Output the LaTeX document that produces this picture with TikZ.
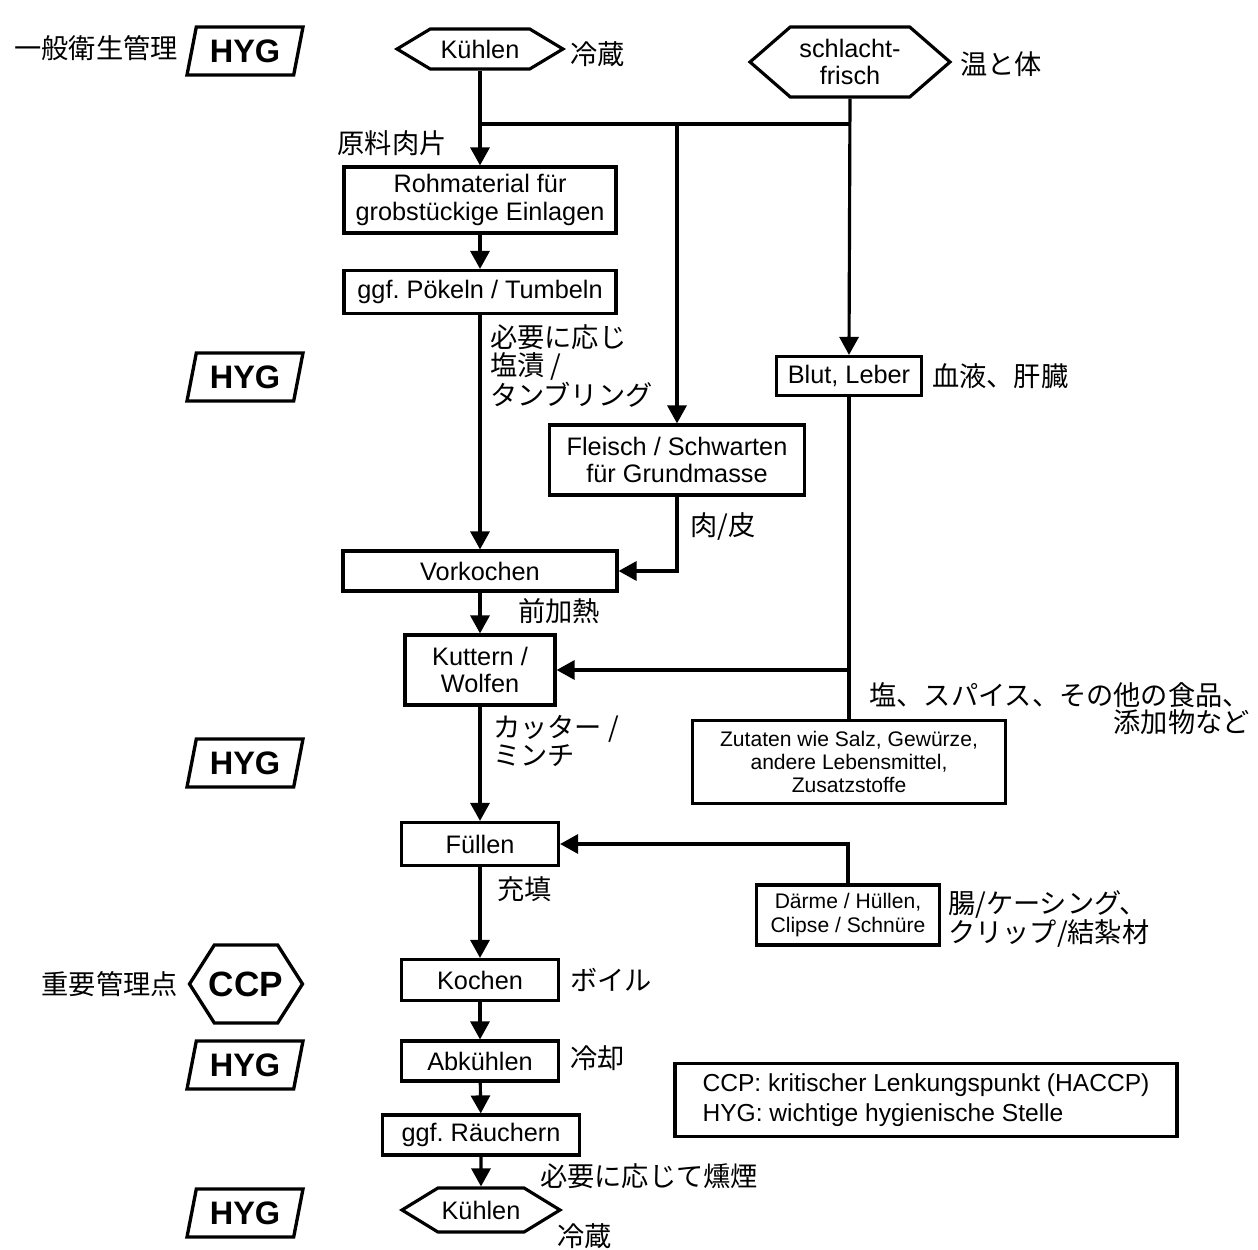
\documentclass[tikz,border=0pt]{standalone}
\usepackage{fontspec}
\setmainfont{Liberation Sans}
\newfontfamily\jpfont{Noto Sans CJK JP}
\usetikzlibrary{arrows.meta,shapes.geometric,shapes.symbols}
\frenchspacing

\tikzset{
  stepbox/.style={
    draw,
    line width=1.8pt,
    align=center,
    inner sep=2pt,
    font=\fontsize{14.4}{15.6}\selectfont
  },
  smallbox/.style={
    stepbox,
    font=\fontsize{12}{13.2}\selectfont
  },
  coolbox/.style={
    signal,
    signal to=east and west,
    draw,
    line width=1.8pt,
    align=center,
    inner sep=1pt,
    font=\fontsize{14.4}{15.6}\selectfont
  },
  hygmark/.style={
    trapezium,
    trapezium left angle=75,
    trapezium right angle=105,
    trapezium stretches body,
    draw,
    line width=1.9pt,
    minimum width=2.32cm,
    minimum height=0.96cm,
    font=\bfseries\fontsize{18.5}{20}\selectfont
  },
  ccpmark/.style={
    signal,
    signal to=east and west,
    signal pointer angle=115,
    draw,
    line width=1.9pt,
    minimum width=2.26cm,
    minimum height=1.56cm,
    inner sep=0pt,
    label={[font=\bfseries\fontsize{20}{22}\selectfont]center:CCP}
  },
  jplabel/.style={
    font=\jpfont\fontsize{15.5}{15.5}\selectfont,
    inner sep=1pt
  },
  flow/.style={
    -{Triangle[length=3.6mm,width=3.8mm]},
    line width=1.8pt
  },
  link/.style={line width=1.8pt}
}

\begin{document}
\begin{tikzpicture}[x=0.02cm,y=-0.02cm]
  \useasboundingbox (0,0) rectangle (1258,1250);

  % hygiene marks on the left
  \node[hygmark] (hyg1) at (245,51) {HYG};
  \node[hygmark] (hyg2) at (245,377) {HYG};
  \node[hygmark] (hyg3) at (245,763) {HYG};
  \node[hygmark] (hyg4) at (245,1065) {HYG};
  \node[hygmark] (hyg5) at (245,1213) {HYG};
  \node[ccpmark] (ccp) at (246,984) {};
  \node[jplabel, anchor=east] (hygtxt) at (180,48) {一般衛生管理};
  \node[jplabel, anchor=east] (ccptxt) at (180,984) {重要管理点};

  % raw material sources
  \node[coolbox, signal pointer angle=62, minimum width=3.32cm, minimum height=0.8cm] (cool) at (480,49) {Kühlen};
  \node[coolbox, signal pointer angle=82, minimum width=4.0cm, minimum height=1.4cm] (fresh) at (850,62) {schlacht-\\frisch};
  \node[jplabel, anchor=west] (cooltxt) at (568,54) {冷蔵};
  \node[jplabel, anchor=west] (freshtxt) at (958,64) {温と体};

  % main line
  \node[stepbox, minimum width=5.44cm, minimum height=1.32cm] (raw) at (480,200) {Rohmaterial für\\grobstückige Einlagen};
  \node[stepbox, minimum width=5.44cm, minimum height=0.86cm] (cure) at (480,292) {ggf. Pökeln / Tumbeln};
  \node[stepbox, minimum width=5.48cm, minimum height=0.8cm] (precook) at (480,571) {Vorkochen};
  \node[stepbox, minimum width=3.0cm, minimum height=1.4cm] (cutter) at (480,670) {Kuttern /\\Wolfen};
  \node[stepbox, minimum width=3.14cm, minimum height=0.86cm] (fill) at (480,844) {Füllen};
  \node[stepbox, minimum width=3.14cm, minimum height=0.82cm] (cook) at (480,980) {Kochen};
  \node[stepbox, minimum width=3.14cm, minimum height=0.8cm] (chill) at (480,1061) {Abkühlen};
  \node[stepbox, minimum width=3.94cm, minimum height=0.8cm] (smoke) at (481,1135) {ggf. Räuchern};
  \node[coolbox, signal pointer angle=63, minimum width=3.16cm, minimum height=0.88cm] (store) at (481,1210) {Kühlen};

  % side inputs
  \node[stepbox, minimum width=5.1cm, minimum height=1.4cm] (meat) at (677,460) {Fleisch / Schwarten\\für Grundmasse};
  \node[stepbox, minimum width=2.9cm, minimum height=0.78cm] (blood) at (849,376) {Blut, Leber};
  \node[smallbox, minimum width=6.26cm, minimum height=1.66cm] (spice) at (849,762) {Zutaten wie Salz, Gewürze,\\andere Lebensmittel,\\Zusatzstoffe};
  \node[smallbox, minimum width=3.66cm, minimum height=1.2cm] (casing) at (848,915) {Därme / Hüllen,\\Clipse / Schnüre};

  % legend
  \node[stepbox, align=left, minimum width=10.04cm, minimum height=1.46cm, font=\fontsize{14}{17}\selectfont] (legend) at (926,1100) {CCP: kritischer Lenkungspunkt (HACCP)\\HYG: wichtige hygienische Stelle};

  % japanese notes
  \node[jplabel] (rawtxt) at (392,143) {原料肉片};
  \node[jplabel, anchor=west, align=left] (curetxt) at (488,366) {必要に応じ\\塩漬 /\\タンブリング};
  \node[jplabel, anchor=west] (bloodtxt) at (930,376) {血液、肝臓};
  \node[jplabel, anchor=west] (meattxt) at (688,526) {肉/皮};
  \node[jplabel, anchor=west] (precooktxt) at (516,611) {前加熱};
  \node[jplabel, anchor=east, align=right] (spicetxt) at (1252,709) {塩、スパイス、その他の食品、\\添加物など};
  \node[jplabel, anchor=west, align=left] (cuttertxt) at (491,741) {カッター /\\ミンチ};
  \node[jplabel, anchor=west] (filltxt) at (495,889) {充填};
  \node[jplabel, anchor=west, align=left] (casingtxt) at (946,919) {腸/ケーシング、\\クリップ/結紮材};
  \node[jplabel, anchor=west] (cooktxt) at (568,980) {ボイル};
  \node[jplabel, anchor=west] (chilltxt) at (568,1058) {冷却};
  \node[jplabel, anchor=west] (smoketxt) at (538,1176) {必要に応じて燻煙};
  \node[jplabel, anchor=west] (storetxt) at (555,1236) {冷蔵};

  % connectors
  \coordinate (fork) at (677,124);
  \draw[flow] (cool.south) -- (raw.north);
  \draw[link] (cool.south |- fork) -- (fresh.south |- fork);
  \draw[flow] (fork) -- (meat.north);
  \draw[flow] (fresh.south) -- (blood.north);
  \draw[flow] (raw) -- (cure);
  \draw[flow] (cure) -- (precook);
  \draw[flow] (meat.south) |- (precook.east);
  \draw[flow] (precook) -- (cutter);
  \draw[link] (blood.south) -- (spice.north);
  \draw[flow] (blood.south |- cutter.east) -- (cutter.east);
  \draw[flow] (cutter) -- (fill);
  \draw[flow] (casing.north) |- (fill.east);
  \draw[flow] (fill) -- (cook);
  \draw[flow] (cook) -- (chill);
  \draw[flow] (chill) -- (smoke);
  \draw[flow] (smoke) -- (store);
\end{tikzpicture}
\end{document}
